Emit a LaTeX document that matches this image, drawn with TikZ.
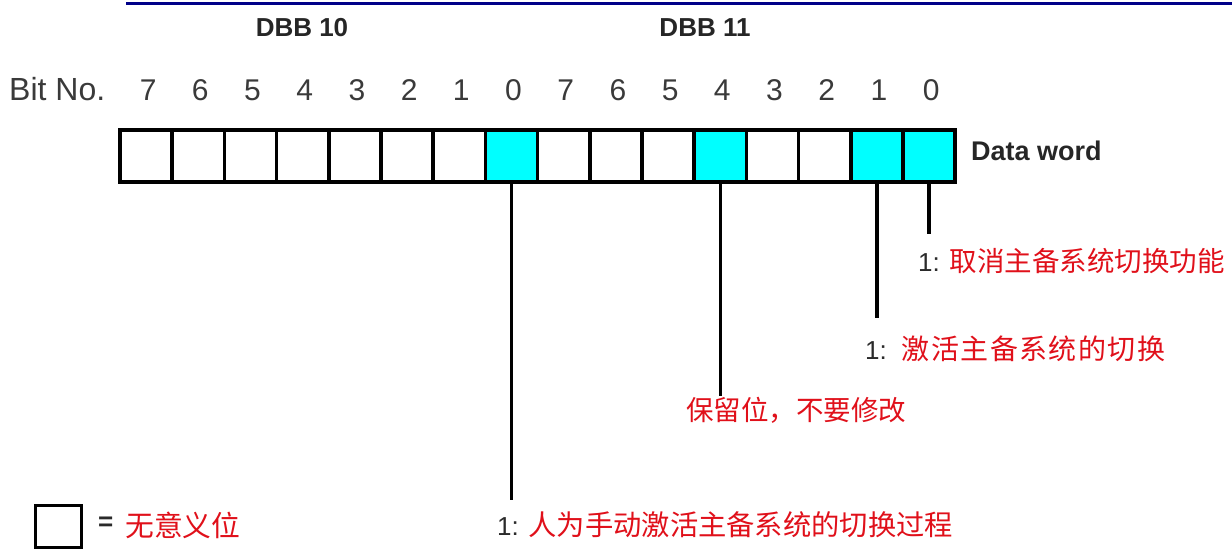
\documentclass[tikz,border=0pt]{standalone}
\usepackage{fontspec}
\setmainfont{Liberation Sans}
\newfontfamily\cjk{Noto Sans CJK SC}
\definecolor{cyanfill}{HTML}{00FFFF}
\definecolor{navyline}{HTML}{000088}
\definecolor{redtext}{HTML}{E0101A}
\definecolor{digitgray}{HTML}{3A3A3A}
\definecolor{numgray}{HTML}{2A2A2A}
\begin{document}
\begin{tikzpicture}[x=1pt,y=-1pt,
  cell/.style={draw=black, fill=white, line width=3.5pt, minimum width=52.2pt, minimum height=52pt, inner sep=0pt, outer sep=0pt},
  hot/.style={cell, fill=cyanfill},
  leader/.style={draw=black, line width=3.5pt},
  bitnum/.style={font=\fontsize{30}{30}\selectfont, text=digitgray, anchor=base, inner sep=0pt},
  head/.style={font=\bfseries\fontsize{26}{26}\selectfont, text=black!85, anchor=base, inner sep=0pt},
  note/.style={anchor=west, inner sep=0pt, font=\fontsize{26}{30}\selectfont, text=numgray},
  cn/.style={text=redtext, font=\cjk\fontsize{27.5}{30}\selectfont}
]
\useasboundingbox (0,0) rectangle (1232,549);
% top rule
\coordinate (ruleL) at (126,3);
\coordinate (ruleR) at (1232,3);
\draw[navyline, line width=3pt] (ruleL) -- (ruleR);
% headers
\node[head] (dbb10) at (302,36) {DBB 10};
\node[head] (dbb11) at (705,36) {DBB 11};
% bit numbers
\node[anchor=base west, inner sep=0pt, font=\fontsize{32}{32}\selectfont, text=digitgray] (bitno) at (9,100) {Bit No.};
\foreach \i/\d in {0/7,1/6,2/5,3/4,4/3,5/2,6/1,7/0,8/7,9/6,10/5,11/4,12/3,13/2,14/1,15/0}{
  \node[bitnum] (n\i) at ({120+52.2*\i+28.1},100) {\d};
}
% cells
\foreach \i in {0,...,15}{
  \node[cell] (c\i) at ({120+52.2*\i+26.1},156) {};
}
\foreach \i in {7,11,14,15}{
  \node[hot] (c\i) at ({120+52.2*\i+26.1},156) {};
}
\node[anchor=base west, inner sep=0pt, font=\bfseries\fontsize{27}{27}\selectfont, text=black!85] (dw) at (971,160) {Data word};
% leader ends
\coordinate (e15) at (c15.south |- 0,234);
\coordinate (e14) at (c14.south |- 0,318);
\coordinate (e11) at (c11.south |- 0,396);
\coordinate (e7) at (c7.south |- 0,500);
\draw[leader] (c15.south) -- (e15);
\draw[leader] (c14.south) -- (e14);
\draw[leader] (c11.south) -- (e11);
\draw[leader] (c7.south) -- (e7);
% notes
\node[note] (t15) at (918,261) {1: {\cjk\color{redtext}\fontsize{27.5}{30}\selectfont 取消主备系统切换功能}};
\node[note] (t14) at (865,349) {1:\hspace{15pt}{\cjk\color{redtext}\fontsize{28}{30}\selectfont\addfontfeature{LetterSpace=5}激活主备系统的切换}};
\node[anchor=west, inner sep=0pt, cn] (t11) at (686,410) {保留位，不要修改};
\node[note] (t7) at (497,525) {1: {\cjk\color{redtext}\fontsize{28.3}{30}\selectfont 人为手动激活主备系统的切换过程}};
% legend
\node[draw=black, line width=3pt, minimum width=46pt, minimum height=42pt, inner sep=0pt, outer sep=0pt] (lg) at (58.5,526) {};
\node[anchor=west, inner sep=0pt, font=\bfseries\fontsize{26}{26}\selectfont, text=numgray] (eq) at (98,524) {=};
\node[anchor=west, inner sep=0pt, cn, font=\cjk\fontsize{28.8}{30}\selectfont] (lgt) at (125,525) {无意义位};
\end{tikzpicture}
\end{document}
